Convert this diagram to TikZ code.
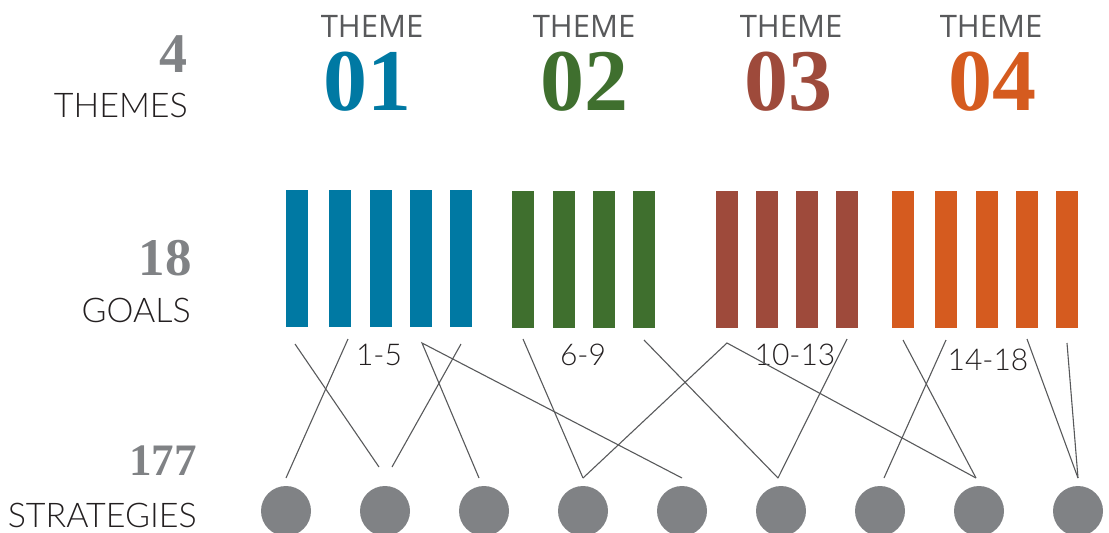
\documentclass[tikz,border=0pt]{standalone}
\usepackage{fontspec}
\setmainfont{Lato Light}
\newfontfamily\themefont{Open Sans}
\newfontfamily\numfont{Liberation Serif}
\definecolor{cblue}{RGB}{0,121,163}
\definecolor{cgreen}{RGB}{63,111,46}
\definecolor{cred}{RGB}{158,74,59}
\definecolor{corange}{RGB}{213,91,31}
\definecolor{cgrey}{RGB}{128,130,133}
\definecolor{cline}{RGB}{88,89,91}
\definecolor{ctext}{RGB}{35,31,32}
\definecolor{ctheme}{RGB}{88,89,91}
\begin{document}
\begin{tikzpicture}[x=1pt,y=-1pt,
  bar/.style={draw=none,fill=#1,minimum width=22pt,minimum height=137pt,inner sep=0pt,anchor=north},
  strat/.style={circle,fill=cgrey,minimum size=50pt,inner sep=0pt},
  conn/.style={draw=cline,line width=1.1pt},
  bignum/.style={text=cgrey,font=\numfont\bfseries\fontsize{#1}{#1}\selectfont,anchor=base east,inner sep=0pt},
  cat/.style={text=ctext,font=\fontsize{34}{34}\selectfont,anchor=base east,inner sep=0pt},
  themelbl/.style={text=ctheme,font=\themefont\fontsize{31}{31}\selectfont,anchor=base,inner sep=0pt,text height=23pt,text depth=0pt},
  themenum/.style={text=#1,font=\numfont\bfseries\fontsize{88}{88}\selectfont,anchor=base,inner sep=0pt,text height=60pt,text depth=0pt},
  rangelbl/.style={text=ctext,font=\fontsize{30}{30}\selectfont,anchor=base,inner sep=0pt}]
\useasboundingbox (0,0) rectangle (1109,533);
% left labels
\node[bignum=56] (n4) at (188,72) {4};
\node[cat] (lthemes) at (188,117) {THEMES};
\node[bignum=53] (n18) at (192,275) {18};
\node[cat] (lgoals) at (191,322) {GOALS};
\node[bignum=45] (n177) at (197,475) {177};
\node[cat] (lstrat) at (197,527) {STRATEGIES};
% themes
\node[themelbl] (th1) at (372,37) {THEME};
\node[themelbl] (th2) at (584,37) {THEME};
\node[themelbl] (th3) at (791,37) {THEME};
\node[themelbl] (th4) at (991,37) {THEME};
\node[themenum=cblue] (tn1) at (367,110) {01};
\node[themenum=cgreen] (tn2) at (584,110) {02};
\node[themenum=cred] (tn3) at (788,110) {03};
\node[themenum=corange] (tn4) at (992,110) {04};
% goals
\foreach \i/\x in {1/297,2/340,3/381,4/421,5/461}
  \node[bar=cblue] (g\i) at (\x,190) {};
\foreach \i/\x in {6/523,7/564,8/604,9/644}
  \node[bar=cgreen] (g\i) at (\x,191) {};
\foreach \i/\x in {10/727,11/767,12/807,13/847}
  \node[bar=cred] (g\i) at (\x,191) {};
\foreach \i/\x in {14/903,15/946,16/987,17/1027,18/1067}
  \node[bar=corange] (g\i) at (\x,191) {};
% range labels
\node[rangelbl] (r1) at (379,365) {1-5};
\node[rangelbl] (r2) at (583,365) {6-9};
\node[rangelbl] (r3) at (795,365) {10-13};
\node[rangelbl] (r4) at (988,370) {14-18};
% strategies
\foreach \i/\x in {1/286,2/385,3/484,4/583,5/682,6/781,7/880,8/979,9/1078}
  \node[strat] (s\i) at (\x,511) {};
% connector end points
\coordinate (t1) at (295,344);
\coordinate (t2) at (348,339);
\coordinate (t3) at (422,343);
\coordinate (t4) at (461,344);
\coordinate (t5) at (523,339);
\coordinate (t6) at (644,340);
\coordinate (t7) at (727,343);
\coordinate (t8) at (847,339);
\coordinate (t9) at (903,340);
\coordinate (t10) at (946,340);
\coordinate (t11) at (1027,339);
\coordinate (t12) at (1067,343);
\coordinate (p1) at (286,478);
\coordinate (p2a) at (379,467);
\coordinate (p2b) at (392,467);
\coordinate (p3) at (479,478);
\coordinate (p4) at (583,478);
\coordinate (p5) at (682,478);
\coordinate (p6) at (778,478);
\coordinate (p7) at (884,478);
\coordinate (p8) at (976,478);
\coordinate (p9) at (1078,478);
% connectors
\draw[conn] (t1) -- (p2a);
\draw[conn] (t2) -- (p1);
\draw[conn] (t4) -- (p2b);
\draw[conn] (p3) -- (t3) -- (p5);
\draw[conn] (t5) -- (p4);
\draw[conn] (t6) -- (p6);
\draw[conn] (p4) -- (t7) -- (p8);
\draw[conn] (t8) -- (p6);
\draw[conn] (t9) -- (p8);
\draw[conn] (t10) -- (p7);
\draw[conn] (t11) -- (p9);
\draw[conn] (t12) -- (p9);
\end{tikzpicture}
\end{document}
